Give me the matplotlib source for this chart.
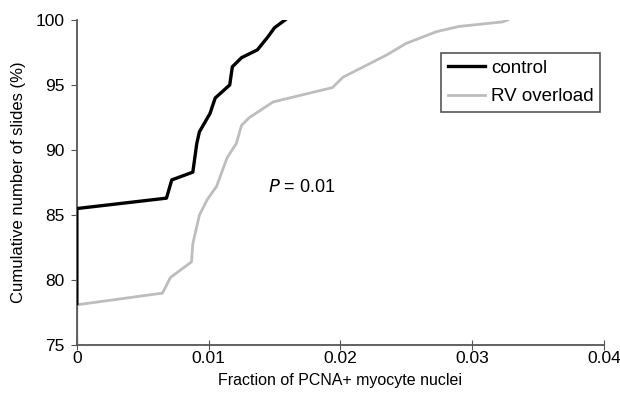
import numpy as np
import matplotlib
matplotlib.use("Agg")
import matplotlib.pyplot as plt

plt.rcParams['font.family'] = ['Liberation Sans', 'DejaVu Sans']

# control curve (fraction, cumulative %)
control_x = [0, 0, 0.0068, 0.0072, 0.0088, 0.0091, 0.0093, 0.0101, 0.0105,
             0.0116, 0.0118, 0.0125, 0.0137, 0.0145, 0.0150, 0.0158]
control_y = [78.2, 85.5, 86.3, 87.7, 88.3, 90.5, 91.4, 92.8, 94.0,
             95.0, 96.4, 97.1, 97.7, 98.7, 99.4, 100]

# RV overload curve
rv_x = [0, 0, 0.0065, 0.0071, 0.0087, 0.0088, 0.0093, 0.0099, 0.0106, 0.0114,
        0.0121, 0.0125, 0.0131, 0.0149, 0.0194, 0.0202, 0.0235, 0.0250,
        0.0273, 0.0290, 0.0323, 0.0327]
rv_y = [75, 78.1, 79.0, 80.2, 81.4, 82.8, 85.0, 86.2, 87.2, 89.4,
        90.5, 91.9, 92.5, 93.7, 94.8, 95.6, 97.3, 98.2,
        99.1, 99.5, 99.85, 100]

fig = plt.figure(figsize=(6.2, 4.07), dpi=100)
ax = fig.add_axes([0.124, 0.152, 0.850, 0.799])

ax.plot(rv_x, rv_y, color='#bdbdbd', lw=2, label='RV overload', zorder=2)
ax.plot(control_x, control_y, color='black', lw=2.4, label='control', zorder=3)

ax.set_xlim(0, 0.04)
ax.set_ylim(75, 100)
ax.set_xticks([0, 0.01, 0.02, 0.03, 0.04])
ax.set_xticklabels(['0', '0.01', '0.02', '0.03', '0.04'])
ax.set_yticks([75, 80, 85, 90, 95, 100])

for s in ['top', 'right']:
    ax.spines[s].set_visible(False)
for s in ['left', 'bottom']:
    ax.spines[s].set_color('#555555')
    ax.spines[s].set_linewidth(1.3)
ax.tick_params(axis='x', direction='inout', length=7, color='#555555', labelsize=12.5, pad=1)
ax.tick_params(axis='y', direction='out', length=4, color='#555555', labelsize=12.5, pad=5)

ax.set_xlabel('Fraction of PCNA+ myocyte nuclei', fontsize=11.5, labelpad=5)
ax.set_ylabel('Cumulative number of slides (%)', fontsize=12, labelpad=7)

ax.text(0.0145, 87.1, '$P$ = 0.01', fontsize=13, va='center', ha='left',
        math_fontfamily='dejavusans')

handles, labels = ax.get_legend_handles_labels()
leg = ax.legend(handles[::-1], labels[::-1], loc='upper right',
                bbox_to_anchor=(600 / 620, (407 - 53) / 407),
                bbox_transform=fig.transFigure, borderaxespad=0,
                fancybox=False, edgecolor='#555555', framealpha=1,
                fontsize=13.5, handlelength=2.0, handletextpad=0.3,
                labelspacing=0.6, borderpad=0.35)
leg.get_frame().set_linewidth(1.2)

fig.savefig('out.png', dpi=100)
